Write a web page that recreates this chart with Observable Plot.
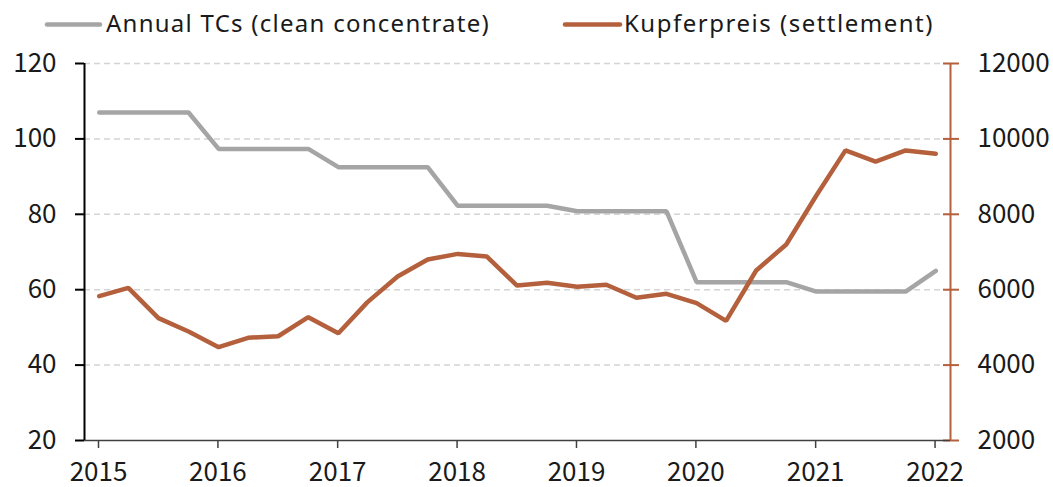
<!DOCTYPE html>
<html>
<head>
<meta charset="utf-8">
<script src="https://cdn.jsdelivr.net/npm/d3@7"></script>
<script src="https://cdn.jsdelivr.net/npm/@observablehq/plot@0.6"></script>
<style>
  html, body { margin: 0; padding: 0; background: #fff; }
  #wrap { width: 1053px; height: 487px; position: relative; overflow: hidden; }
  #legend { display: block; }
  #chart svg { display: block; overflow: visible; }
</style>
</head>
<body>
<div id="wrap">
  <svg id="legend" width="1053" height="42"></svg>
  <div id="chart"></div>
</div>
<script>
// Quarterly observation months (Feb, May, Aug, Nov)
const periods = [
  "2015-02","2015-05","2015-08","2015-11",
  "2016-02","2016-05","2016-08","2016-11",
  "2017-02","2017-05","2017-08","2017-11",
  "2018-02","2018-05","2018-08","2018-11",
  "2019-02","2019-05","2019-08","2019-11",
  "2020-02","2020-05","2020-08","2020-11",
  "2021-02","2021-05","2021-08","2021-11",
  "2022-02"
];
// Annual TCs (clean concentrate), USD/t — left axis
const annualTCs = [
  107, 107, 107, 107,
  97.35, 97.35, 97.35, 97.35,
  92.5, 92.5, 92.5, 92.5,
  82.25, 82.25, 82.25, 82.25,
  80.8, 80.8, 80.8, 80.8,
  62, 62, 62, 62,
  59.5, 59.5, 59.5, 59.5,
  65
];
// Kupferpreis (settlement), USD/t — right axis
const kupferpreis = [
  5830, 6050, 5245, 4890,
  4475, 4725, 4765, 5270,
  4845, 5670, 6350, 6800,
  6950, 6880, 6110, 6185,
  6080, 6130, 5785, 5890,
  5645, 5175, 6510, 7200,
  8500, 9695, 9395, 9695,
  9605
];
const leftTicks = [20, 40, 60, 80, 100, 120];
const rightTicks = [2000, 4000, 6000, 8000, 10000, 12000];
const yearTicks = [2015, 2016, 2017, 2018, 2019, 2020, 2021, 2022];
const seriesNames = ["Annual TCs (clean concentrate)", "Kupferpreis (settlement)"];

const GRAY = "#a5a5a5";
const COPPER = "#b4603c";
const FONT = "'Noto Sans CJK JP', 'Noto Sans', sans-serif";
const LEGEND_FONT = "'Noto Sans', 'Noto Sans CJK JP', sans-serif";
const RATIO = 100; // right axis = left axis * 100

const parse = s => { const [y, m] = s.split("-").map(Number); return new Date(Date.UTC(y, m - 1, 15)); };
const data = periods.map((p, i) => ({date: parse(p), tc: annualTCs[i], cu: kupferpreis[i]}));
const xStart = new Date(Date.UTC(2015, 0, 1));
const xEnd = new Date(Date.UTC(2022, 3, 1));
const yearDates = yearTicks.map(y => new Date(Date.UTC(y, 0, 1)));

// Legend
const lg = d3.select("#legend");
const legendItems = [
  {name: seriesNames[0], color: GRAY, x0: 47, x1: 100, tx: 106, w: 384},
  {name: seriesNames[1], color: COPPER, x0: 565, x1: 620, tx: 624, w: 310}
];
for (const it of legendItems) {
  lg.append("line").attr("x1", it.x0).attr("x2", it.x1).attr("y1", 24.5).attr("y2", 24.5)
    .attr("stroke", it.color).attr("stroke-width", 4.5).attr("stroke-linecap", "round");
  const t = lg.append("text").attr("x", it.tx).attr("y", 32).text(it.name)
    .attr("font-family", LEGEND_FONT).attr("font-size", 24).attr("fill", "#1a1a1a");
  const len = t.node().getComputedTextLength();
  const ls = Math.max(0, Math.min(3, (it.w - len) / it.name.length));
  t.attr("letter-spacing", ls.toFixed(2));
}

const chart = Plot.plot({
  width: 1053,
  height: 445,
  marginTop: 21,
  marginBottom: 47,
  marginLeft: 84,
  marginRight: 103,
  style: {fontFamily: FONT, fontSize: "26px", color: "#1a1a1a", background: "#fff", overflow: "visible"},
  x: {type: "utc", domain: [xStart, xEnd], label: null},
  y: {domain: [20, 120], label: null},
  marks: [
    Plot.gridY(leftTicks.filter(t => t > 20), {stroke: "#d4d4d4", strokeOpacity: 1, strokeWidth: 1.5, strokeDasharray: "6,4"}),
    Plot.axisY(leftTicks, {anchor: "left", tickSize: 9, tickPadding: 19, stroke: "#000", strokeWidth: 2, fill: "#1a1a1a"}),
    Plot.axisY(rightTicks.map(v => v / RATIO), {anchor: "right", tickSize: 8, tickPadding: 19, stroke: COPPER, strokeWidth: 2, fill: "#1a1a1a", tickFormat: d => String(d * RATIO)}),
    Plot.axisY(rightTicks.map(v => v / RATIO), {anchor: "right", tickSize: -8, stroke: COPPER, strokeWidth: 2, tickFormat: () => ""}),
    Plot.axisX(yearDates, {anchor: "bottom", tickSize: 8, tickPadding: 14, stroke: "#404040", strokeWidth: 1.5, fill: "#1a1a1a", tickFormat: d3.utcFormat("%Y"), dx: 14}),
    Plot.ruleY([20], {stroke: "#404040", strokeWidth: 1.5}),
    Plot.ruleX([xStart], {stroke: "#000", strokeWidth: 2}),
    Plot.ruleX([xEnd], {stroke: COPPER, strokeWidth: 2}),
    Plot.line(data, {x: "date", y: "tc", stroke: GRAY, strokeWidth: 4.5, strokeLinejoin: "miter"}),
    Plot.line(data, {x: "date", y: d => d.cu / RATIO, stroke: COPPER, strokeWidth: 4.5, strokeLinejoin: "miter"})
  ]
});
document.getElementById("chart").appendChild(chart);
</script>
</body>
</html>
